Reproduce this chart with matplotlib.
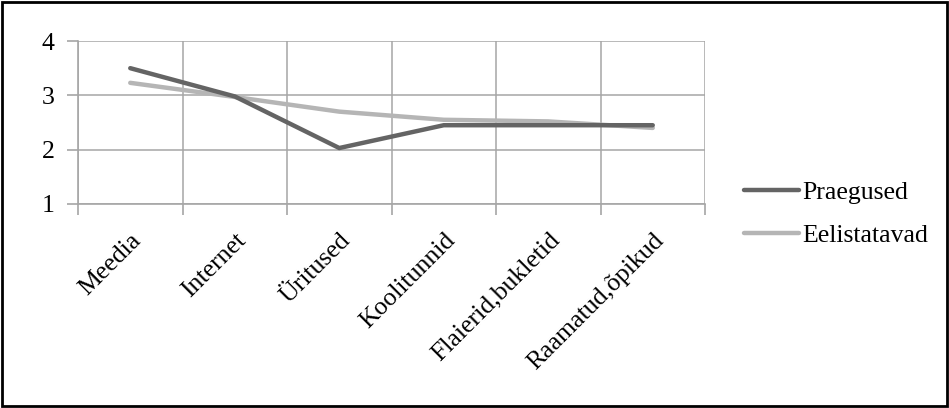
import matplotlib
matplotlib.use("Agg")
import matplotlib.pyplot as plt
from matplotlib.patches import Rectangle

categories = ["Meedia", "Internet", "Üritused", "Koolitunnid",
              "Flaierid,bukletid", "Raamatud,õpikud"]
praegused = [3.5, 2.98, 2.03, 2.45, 2.45, 2.45]
eelistatavad = [3.23, 2.97, 2.7, 2.55, 2.52, 2.4]
series_names = ["Praegused", "Eelistatavad"]
yticks = [1, 2, 3, 4]

plt.rcParams["font.family"] = ["Liberation Serif", "DejaVu Serif"]
FS = 18.5

W, H = 949, 408
fig = plt.figure(figsize=(W / 100, H / 100), dpi=100)
ax = fig.add_axes([78 / W, 1 - 204 / H, (705 - 78) / W, (204 - 41) / H])

x = [i + 0.5 for i in range(len(categories))]
grid_c = "#a6a6a6"
ax.plot(x, praegused, color="#646464", lw=3.2, solid_capstyle="round",
        label=series_names[0], zorder=3)
ax.plot(x, eelistatavad, color="#b5b5b5", lw=3.2, solid_capstyle="round",
        label=series_names[1], zorder=2)

ax.set_xlim(0, len(categories))
ax.set_ylim(1, 4)
ax.set_yticks(yticks)
ax.set_yticklabels([str(v) for v in yticks], fontsize=FS)

# category boundaries carry the ticks and vertical gridlines
ax.set_xticks(range(len(categories) + 1))
ax.set_xticklabels([])
ax.set_xticks(x, minor=True)
ax.set_xticklabels(categories, minor=True, rotation=45, ha="right",
                   va="top", rotation_mode="anchor", fontsize=FS)
ax.tick_params(axis="x", which="minor", length=0, pad=18)
ax.tick_params(axis="x", which="major", length=8, color=grid_c, width=1.2)
ax.tick_params(axis="y", length=8, color=grid_c, width=1.2, pad=9)

ax.grid(True, which="major", color=grid_c, lw=1.1)
ax.set_axisbelow(True)
for side in ("top", "right"):
    ax.spines[side].set_visible(False)
for side in ("left", "bottom"):
    ax.spines[side].set_color(grid_c)
    ax.spines[side].set_linewidth(1.2)

leg = ax.legend(loc="center left", bbox_to_anchor=(744 / W, 1 - 214 / H),
                bbox_transform=fig.transFigure, frameon=False, fontsize=FS,
                handlelength=2.15, handletextpad=0.12, labelspacing=0.75,
                borderpad=0, borderaxespad=0)

fig.patches.append(Rectangle((2 / W, 2 / H), (W - 4) / W, (H - 4) / H,
                             transform=fig.transFigure, fill=False,
                             edgecolor="black", lw=2))

fig.savefig("out.png", dpi=100)
